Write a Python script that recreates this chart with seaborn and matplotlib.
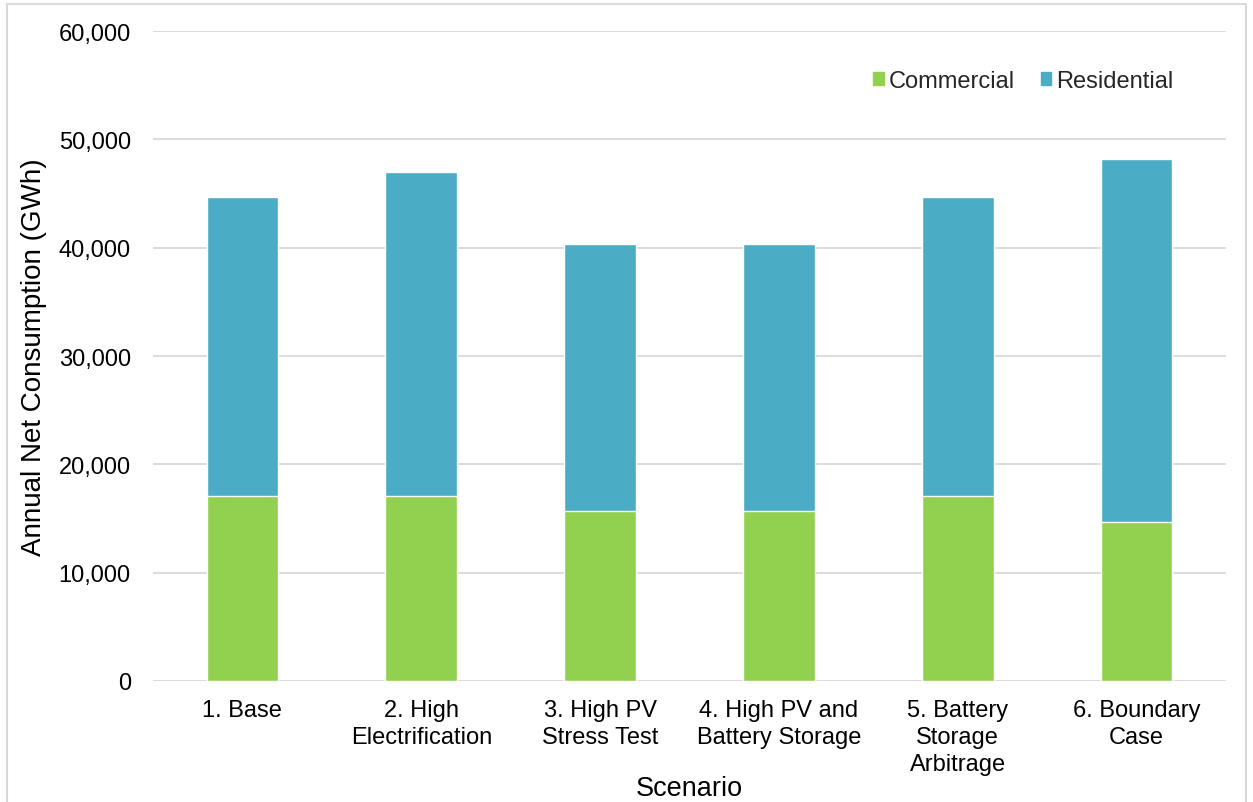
import matplotlib
matplotlib.use("Agg")
import matplotlib.pyplot as plt
from matplotlib.patches import Rectangle
from matplotlib.ticker import FuncFormatter, MultipleLocator
import seaborn as sns
import pandas as pd

scenarios = [
    "1. Base",
    "2. High\nElectrification",
    "3. High PV\nStress Test",
    "4. High PV and\nBattery Storage",
    "5. Battery\nStorage\nArbitrage",
    "6. Boundary\nCase",
]
commercial = [17080, 17080, 15670, 15670, 17080, 14710]
residential = [27620, 29890, 24680, 24680, 27620, 33520]

green = "#92D050"
blue = "#4BACC6"

sns.set_theme(style="white")
plt.rcParams["font.family"] = ["Liberation Sans", "DejaVu Sans"]

df = pd.DataFrame({
    "Scenario": scenarios,
    "Commercial": commercial,
    "Residential": residential,
})
df["Total"] = df["Commercial"] + df["Residential"]

fig = plt.figure(figsize=(12.53, 8.03), dpi=100)
ax = fig.add_axes([0.1221, 0.1507, 0.8564, 0.8093])

# stacked bars: full height in blue, commercial share overlaid in green
sns.barplot(data=df, x="Scenario", y="Total", color=blue, width=0.4,
            saturation=1, ax=ax, zorder=3)
sns.barplot(data=df, x="Scenario", y="Commercial", color=green, width=0.4,
            saturation=1, ax=ax, zorder=4)

ax.set_ylim(0, 60000)
ax.set_xlim(-0.5, len(scenarios) - 0.5)
ax.yaxis.set_major_locator(MultipleLocator(10000))
ax.yaxis.set_major_formatter(FuncFormatter(lambda v, p: f"{int(v):,}"))
ax.grid(axis="y", color="#D9D9D9", linewidth=1.3, zorder=0)
ax.set_axisbelow(True)
for s in ax.spines.values():
    s.set_visible(False)
ax.tick_params(axis="both", length=0, labelsize=17, colors="black")
ax.tick_params(axis="y", pad=16)
ax.tick_params(axis="x", pad=13)
for lbl in ax.get_xticklabels():
    lbl.set_linespacing(1.3)

ax.set_xlabel("Scenario", fontsize=19.5, color="black", labelpad=0)
ax.set_ylabel("Annual Net Consumption (GWh)", fontsize=20, color="black", labelpad=8)

handles = [Rectangle((0, 0), 1, 1, color=green), Rectangle((0, 0), 1, 1, color=blue)]
fig.legend(handles, ["Commercial", "Residential"], loc="center left",
           bbox_to_anchor=(0.680, 0.898), ncol=2, frameon=False, fontsize=17,
           handlelength=0.45, handleheight=0.45, handletextpad=0.2,
           columnspacing=1.1)

# light frame around the whole chart
fig.add_artist(Rectangle((0.0056, -0.01), 0.989, 1.004, transform=fig.transFigure,
                         fill=False, edgecolor="#D9D9D9", linewidth=1.5))

fig.savefig("out.png", dpi=100, facecolor="white")
